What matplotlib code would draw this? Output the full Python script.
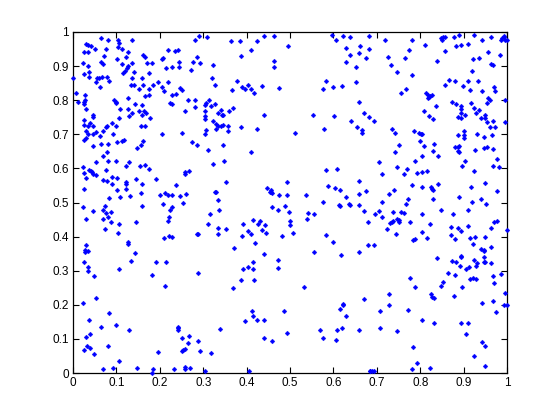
import matplotlib
matplotlib.use("Agg")
import matplotlib.pyplot as plt

x_a = [.001,.008,.011,.031,.035,.041,.026,.035,.051,.065,.081,.104,.106,.104,.114,.127,.137,.280,.291,.308,
       .075,.071,.101,.123,.065,.068,.024,.035,.026,.038,.038,.055,.061,.066,.078,.054,.063,.084,.114,.137,
       .116,.120,.124,.127,.141,.137,.134,.141,.160,.162,.153,.162,.165,.171,.183,.174,.174,.167,.176,.185,
       .197,.204,.210,.220,.220,.235,.243,.206,.208,.245,.245,.229,.215,.273,.277,.286,.293,.323,.321,.328,
       .247,.250,.229,.238,.224,.227,.266,.280,.280,.257,.303,.307,.314,.319,.328,.303,.303,.303,.333,.323,
       .330,.330,.333,.028,.028,.026,.026,.031,.045,.047,.026,.026,.040,.035,.047,.031,.054,.026,.031,.035,
       .047,.063,.070,.077,.079,.091,.098,.093,.102,.114,.118,.065,.081,.095,.098,.100,.109,.107,.127,.127,
       .130,.137,.144,.153,.160,.160,.164,.169,.178,.157,.167,.162,.157,.206,.252,.275,.286,.303,.307]
y_a = [.864,.820,.794,.965,.962,.960,.940,.942,.949,.981,.976,.976,.967,.957,.950,.940,.978,.978,.987,.984,
       .951,.931,.922,.926,.911,.907,.908,.899,.876,.882,.867,.864,.866,.867,.867,.852,.838,.855,.905,.910,
       .881,.887,.893,.899,.882,.864,.844,.844,.864,.846,.832,.933,.927,.908,.908,.879,.832,.812,.814,.844,
       .852,.838,.826,.852,.946,.943,.946,.920,.923,.911,.896,.896,.893,.890,.911,.926,.908,.902,.864,.846,
       .835,.829,.814,.817,.791,.788,.802,.802,.779,.767,.785,.791,.802,.782,.788,.767,.753,.744,.761,.738,
       .729,.717,.724,.814,.802,.794,.788,.773,.758,.750,.741,.727,.732,.723,.723,.711,.707,.682,.688,.700,
       .700,.694,.711,.720,.724,.732,.723,.700,.676,.679,.682,.671,.671,.800,.794,.791,.773,.747,.805,.773,
       .753,.761,.788,.767,.785,.756,.767,.761,.747,.723,.723,.679,.670,.700,.703,.676,.670,.700,.714]

x_b = [.365,.384,.439,.462,.425,.411,.388,.496,.462,.464,.596,.607,.623,.639,.681,.662,.628,.639,.660,.683,
       .676,.628,.653,.379,.367,.390,.397,.404,.409,.418,.436,.475,.575,.584,.598,.619,.653,.660,.671,.683,
       .342,.344,.346,.360,.369,.439,.554,.602,.641,.655,.667,.667,.342,.346,.358,.356,.386,.425,.512,.579,.346]
y_b = [.973,.973,.987,.987,.973,.946,.929,.958,.914,.896,.990,.978,.987,.984,.987,.958,.952,.934,.937,.949,
       .923,.911,.896,.855,.829,.838,.832,.846,.832,.820,.841,.835,.832,.855,.838,.841,.852,.794,.761,.750,
       .770,.758,.756,.767,.776,.756,.758,.753,.738,.720,.714,.703,.723,.726,.723,.709,.720,.717,.703,.717,.670]

x_c = [.720,.782,.812,.775,.726,.766,.733,.747,.780,.839,.858,.849,.851,.853,.858,.879,.890,.925,.943,.962,
       .987,.992,.994,.996,1.0,.989,.883,.895,.909,.957,.985,.922,.936,.962,.968,.920,.867,.881,.909,.934,
       .856,.899,.915,.943,.971,.973,.756,.768,.814,.819,.819,.823,.828,.821,.996,.957,.960,.953,.874,.883,
       .895,.893,.893,.888,.895,.904,.918,.925,.936,.929,.939,.950,.950,.953,.968,.996,.960,.973,.837,.809,
       .821,.830,.694,.736,.743,.786,.798,.802,.805,.800,.750,.832,.886,.902,.902,.902,.932,.946,.966]
y_c = [.978,.976,.961,.946,.926,.923,.902,.882,.873,.914,.943,.981,.978,.984,.984,.984,.990,.990,.978,.984,
       .978,.984,.987,.978,.976,.981,.958,.961,.964,.940,.932,.920,.923,.905,.902,.885,.858,.855,.855,.855,
       .844,.841,.829,.826,.838,.826,.820,.832,.820,.814,.805,.811,.814,.808,.802,.805,.800,.791,.794,.788,
       .782,.773,.761,.750,.747,.758,.791,.776,.770,.761,.747,.758,.747,.735,.738,.735,.720,.720,.782,.767,
       .753,.744,.738,.717,.703,.711,.705,.700,.700,.679,.670,.673,.697,.711,.697,.688,.700,.691,.697]

x_d = [.047,.148,.079,.070,.054,.081,.098,.130,.024,.026,.031,.038,.041,.043,.047,.054,.077,.121,.155,.167,
       .174,.068,.079,.091,.102,.091,.102,.121,.123,.121,.146,.160,.157,.026,.084,.109,.132,.192,.238,.201,
       .213,.220,.229,.247,.261,.208,.254,.227,.224,.222,.220,.210,.222,.229,.160,.022,.047,.068,.074,.077,
       .088,.081,.068,.031,.088,.107,.074,.146,.104,.127,.127,.144,.134,.192,.215,.031,.028,.035,.026,.028,
       .312,.323,.328,.330,.335,.337,.316,.310,.333,.335,.286,.289,.268,.257,.259]
y_d = [.665,.661,.647,.636,.618,.621,.621,.618,.603,.586,.571,.595,.592,.589,.583,.580,.595,.606,.606,.609,
       .598,.565,.562,.574,.571,.554,.536,.554,.559,.539,.568,.554,.527,.539,.512,.515,.518,.568,.551,.521,
       .527,.521,.521,.518,.524,.495,.498,.486,.477,.457,.445,.395,.401,.398,.489,.486,.474,.477,.489,.468,
       .471,.457,.451,.451,.442,.436,.421,.442,.410,.383,.377,.351,.328,.325,.325,.375,.354,.357,.325,.360,
       .653,.612,.530,.530,.507,.477,.466,.436,.424,.407,.407,.407,.592,.589,.583]

x_e = [.409,.349,.353,.448,.457,.457,.459,.454,.492,.475,.492,.459,.473,.489,.498,.415,.430,.427,.443,.392,
       .501,.501,.353,.404,.409,.390,.436,.445,.482,.508,.420,.372,.439,.415,.473,.538,.584,.609,.588,.604,
       .616,.660,.674,.660,.628,.577,.614,.616,.637,.639,.658,.671,.542,.556,.540,.680,.584,.600,.556,.618,.660,.680]
y_e = [.647,.621,.559,.542,.536,.530,.527,.530,.559,.521,.521,.486,.477,.489,.471,.448,.445,.436,.433,.436,
       .445,.433,.421,.416,.407,.401,.419,.410,.401,.410,.380,.366,.348,.325,.331,.521,.595,.598,.548,.542,
       .536,.562,.533,.524,.515,.501,.492,.489,.495,.492,.492,.474,.468,.466,.451,.442,.404,.383,.354,.345,.354,.375]

x_f = [.809,.881,.890,.888,.888,.890,.830,.743,.927,.946,.955,.968,.803,.842,.789,.704,.904,.978,.747,.770,
       .897,.968,.982,.925,.713,.763,.793,.803,.816,.782,.803,.825,.828,.830,.842,.918,.950,.978,.740,.727,
       .773,.830,.890,.939,.713,.768,.920,.952,.849,.909,.697,.706,.713,.738,.756,.763,.803,.876,.731,.736,
       .738,.747,.750,.752,.777,.823,.872,.886,.893,.909,.964,.971,.978,.999,.724,.745,.803,.872,.881,.816,
       .784,.789,.915,.927,.950,.922,.962,.941,.946,.948,.694,.948,.839,.893,.895,.874,.883,.925,.932,.946,.950,.962]
y_f = [.665,.662,.665,.662,.650,.647,.650,.647,.653,.659,.662,.656,.636,.636,.621,.618,.621,.627,.603,.598,
       .606,.606,.603,.592,.583,.583,.586,.589,.592,.551,.545,.545,.539,.536,.554,.545,.556,.533,.536,.524,
       .510,.510,.515,.510,.501,.495,.501,.495,.477,.477,.466,.474,.457,.471,.471,.468,.466,.466,.439,.442,
       .445,.451,.448,.442,.442,.436,.427,.424,.416,.430,.424,.442,.445,.419,.421,.407,.413,.404,.392,.395,
       .389,.392,.395,.398,.398,.378,.369,.363,.360,.357,.375,.339,.336,.342,.339,.328,.325,.331,.322,.325,.325,.322]

x_g = [.035,.035,.049,.107,.183,.289,.213,.054,.022,.084,.038,.098,.065,.130,.040,.031,.033,.040,.026,.049,
       .081,.107,.068,.093,.148,.185,.183,.197,.233,.243,.243,.243,.252,.268,.266,.289,.250,.254,.257,.293,
       .319,.257,.257,.270,.303,.338]
y_g = [.310,.298,.284,.304,.287,.292,.254,.219,.204,.175,.155,.141,.134,.125,.113,.105,.078,.072,.067,.055,
       .078,.034,.011,.014,.014,.011,.000,.061,.011,.134,.131,.125,.102,.108,.087,.093,.064,.067,.069,.064,
       .058,.017,.011,.014,.005,.128]

x_h = [.392,.404,.415,.473,.386,.418,.369,.533,.671,.621,.621,.616,.630,.413,.415,.487,.397,.425,.439,.568,
       .609,.619,.658,.577,.607,.494,.439,.459,.406,.684]
y_h = [.304,.310,.304,.307,.272,.272,.248,.251,.216,.201,.199,.187,.166,.181,.166,.181,.152,.155,.155,.125,
       .125,.131,.125,.102,.096,.116,.102,.093,.005,.005]

x_i = [.892,.906,.913,.929,.865,.881,.853,.847,.777,.789,.897,.915,.922,.929,.968,.987,.971,.729,.825,.828,
       .832,.878,.996,.943,.968,.992,1.0,.727,.708,.773,.975,.803,.708,.747,.832,.895,.909,.906,.943,.950,
       .784,.925,.793,.950,.782,.823,.685,.690,.694]
y_i = [.313,.304,.310,.313,.292,.287,.266,.254,.278,.251,.251,.275,.278,.275,.284,.290,.263,.231,.231,.222,
       .219,.225,.234,.204,.210,.199,.199,.199,.181,.184,.178,.155,.131,.122,.146,.146,.146,.113,.090,.078,
       .075,.049,.028,.020,.011,.014,.005,.005,.005]

x_groups = [x_a, x_b, x_c, x_d, x_e, x_f, x_g, x_h, x_i]
y_groups = [y_a, y_b, y_c, y_d, y_e, y_f, y_g, y_h, y_i]
tick_values = [0, .1, .2, .3, .4, .5, .6, .7, .8, .9, 1]
tick_labels = ['0', '0.1', '0.2', '0.3', '0.4', '0.5', '0.6', '0.7', '0.8', '0.9', '1']

plt.rcParams['font.family'] = ['Liberation Sans', 'DejaVu Sans']
fig = plt.figure(figsize=(5.6, 4.2), dpi=100, facecolor='white')
ax = fig.add_axes([73/560, 1-373/420, 434/560, 341/420])
for xs, ys in zip(x_groups, y_groups):
    ax.plot(xs, ys, linestyle='none', marker='D', markersize=2.5,
            markerfacecolor='#0000ff', markeredgecolor='#0000ff',
            markeredgewidth=0.2, clip_on=False, zorder=3)
ax.set_xlim(0, 1)
ax.set_ylim(0, 1)
ax.set_xticks(tick_values, tick_labels)
ax.set_yticks(tick_values, tick_labels)
ax.tick_params(direction='in', length=4, width=0.8, top=True, right=True,
               labelsize=8.5, colors='black', pad=3)
for s in ax.spines.values():
    s.set_linewidth(0.9)
fig.savefig('out.png', dpi=100, facecolor='white')
